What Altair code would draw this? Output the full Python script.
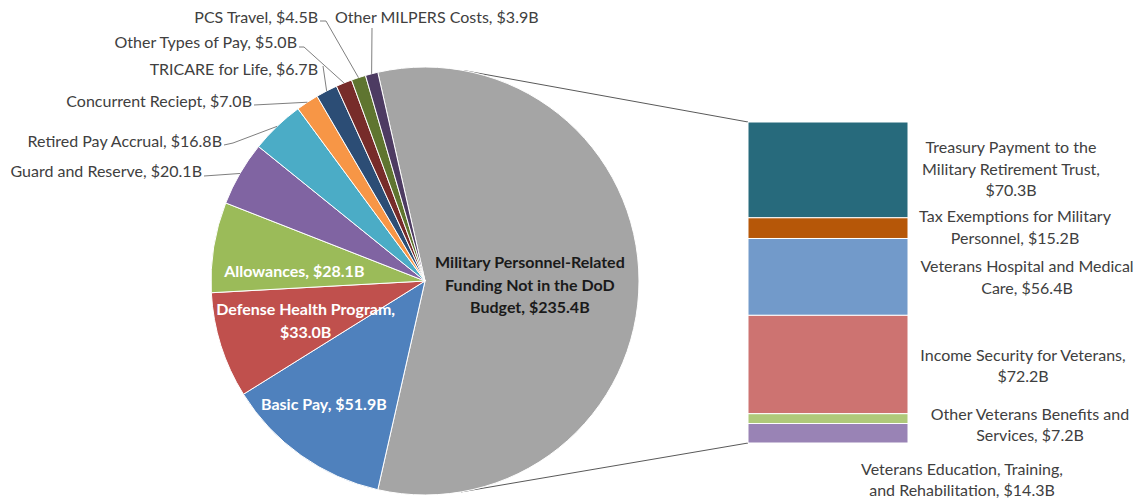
import math
import altair as alt
import pandas as pd

# ---------------- data ----------------
pie_categories = [
    "Military Personnel-Related Funding Not in the DoD Budget",
    "Basic Pay", "Defense Health Program", "Allowances", "Guard and Reserve",
    "Retired Pay Accrual", "Concurrent Reciept", "TRICARE for Life",
    "Other Types of Pay", "PCS Travel", "Other MILPERS Costs",
]
pie_values = [235.4, 51.9, 33.0, 28.1, 20.1, 16.8, 7.0, 6.7, 5.0, 4.5, 3.9]
pie_label_text = [
    "Military Personnel-Related\nFunding Not in the DoD\nBudget,  $235.4B",
    "Basic Pay, $51.9B",
    "Defense Health Program,\n$33.0B",
    "Allowances, $28.1B",
    "Guard and Reserve, $20.1B",
    "Retired Pay Accrual, $16.8B",
    "Concurrent Reciept, $7.0B",
    "TRICARE for Life, $6.7B",
    "Other Types of Pay, $5.0B",
    "PCS Travel, $4.5B",
    "Other MILPERS Costs, $3.9B",
]
bar_categories = [
    "Treasury Payment to the Military Retirement Trust",
    "Tax Exemptions for Military Personnel",
    "Veterans Hospital and Medical Care",
    "Income Security for Veterans",
    "Other Veterans Benefits and Services",
    "Veterans Education, Training, and Rehabilitation",
]
bar_values = [70.3, 15.2, 56.4, 72.2, 7.2, 14.3]
bar_label_text = [
    "Treasury Payment to the\nMilitary Retirement Trust,\n$70.3B",
    "Tax Exemptions for Military\nPersonnel, $15.2B",
    "Veterans Hospital and Medical\nCare, $56.4B",
    "Income Security for Veterans,\n$72.2B",
    "Other Veterans Benefits and\nServices, $7.2B",
    "Veterans Education, Training,\nand Rehabilitation, $14.3B",
]

# ---------------- styles ----------------
pie_colors = ["#A5A5A5", "#4F81BD", "#C0504D", "#9BBB59", "#8064A2", "#4BACC6",
              "#F79646", "#2C4D75", "#772C2A", "#5F7530", "#4D3B62"]
bar_colors = ["#276A7C", "#B65708", "#729ACA", "#CD7371", "#AFC97A", "#9983B5"]
inner_text_colors = ["#1A1A1A", "white", "white", "white"]
LABEL_COLOR = "#404040"
LEADER_COLOR = "#7F7F7F"
FONT = "Lato"
FS = 16
INNER_LH = 22.5
BAR_LH = 21.5

# ---------------- layout (pixels, chart coordinates) ----------------
W, H = 1126, 495
CX, CY, R = 417, 273, 214
BAR_X0, BAR_X1, BAR_Y0, BAR_Y1 = 740, 900, 114, 435
inner_label_radius = [105, 160, 126, 131]
inner_label_turn_deg = [2.5, 3.8, -1.1, -5.2]
# outer labels (slices 4..10): anchor x, y, align
outer_anchor = [(194, 164, "right"), (214, 134, "right"), (244, 94, "right"),
                (310, 62, "right"), (289, 35, "right"), (310, 10, "right"),
                (327, 10, "left")]
# leader start / elbow points for slices 4..10 (the end is the slice edge)
leader_start = [[(196, 168)], [(216, 137), (225, 135)], [(246, 97)],
                [(315, 58)], [(291, 39), (296, 39)], [(312, 13), (318, 13)],
                [(364, 20)]]
bar_label_cx = [1003, 1007, 1019, 1015, 1022, 954]
bar_label_nudge_px = [0, 0, 1, 2, 7, 47]

# ---------------- derived ----------------
total = sum(pie_values)
a0 = math.pi / 2 - math.pi * pie_values[0] / total + 2 * math.pi
theta_scale = alt.Scale(domain=[0, total], range=[a0, a0 + 2 * math.pi])

mids, mid_vals = [], []
cum = 0.0
for v in pie_values:
    mid_vals.append(cum + v / 2)
    mids.append(a0 + 2 * math.pi * (cum + v / 2) / total)
    cum += v

color_scale = alt.Scale(domain=pie_categories + bar_categories,
                        range=pie_colors + bar_colors)

pie_df = pd.DataFrame({
    "cat": pie_categories,
    "value": pie_values,
    "idx": list(range(len(pie_values))),
})
inner_df = pd.DataFrame({
    "text": pie_label_text[:4],
    "tmid": [m + d / 360 * total for m, d in zip(mid_vals[:4], inner_label_turn_deg)],
    "lr": inner_label_radius,
    "tc": inner_text_colors,
    "nl": [t.count("\n") + 1 for t in pie_label_text[:4]],
})

order = alt.Order("idx:Q", sort="ascending")

arcs = alt.Chart(pie_df).mark_arc(radius=R, stroke="white", strokeWidth=1).encode(
    theta=alt.Theta("value:Q", stack=True, scale=theta_scale),
    color=alt.Color("cat:N", scale=color_scale, legend=None),
    order=order,
    x=alt.value(CX), y=alt.value(CY),
)

def inner_layer(n):
    return alt.Chart(inner_df[inner_df["nl"] == n]).mark_text(
        font=FONT, fontSize=FS, fontWeight="bold", lineHeight=INNER_LH, lineBreak="\n",
        align="center", baseline="middle", dy=-(n - 1) * INNER_LH / 2
    ).encode(
        theta=alt.Theta("tmid:Q", stack=None, scale=theta_scale),
        radius=alt.Radius("lr:Q", scale=None),
        text="text:N",
        color=alt.Color("tc:N", scale=None),
        x=alt.value(CX), y=alt.value(CY),
    )

inner_layers = [inner_layer(n) for n in sorted(inner_df["nl"].unique())]

# outer labels
out_rows = []
for k, (ax, ay, al) in enumerate(outer_anchor):
    out_rows.append({"text": pie_label_text[4 + k], "x": ax, "y": ay, "al": al})
out_df = pd.DataFrame(out_rows)

def outer_layer(al):
    return alt.Chart(out_df[out_df["al"] == al]).mark_text(
        font=FONT, fontSize=FS, align=al, baseline="middle", color=LABEL_COLOR
    ).encode(
        x=alt.X("x:Q", scale=None, axis=None),
        y=alt.Y("y:Q", scale=None, axis=None),
        text="text:N",
    )

# leader lines
lead_rows = []
for k, pts in enumerate(leader_start):
    i = 4 + k
    ex = CX + R * math.sin(mids[i])
    ey = CY - R * math.cos(mids[i])
    allp = pts + [(ex, ey)]
    for j, (px, py) in enumerate(allp):
        lead_rows.append({"lid": k, "pt": j, "x": px, "y": py})
lead_df = pd.DataFrame(lead_rows)
leaders = alt.Chart(lead_df).mark_line(color=LEADER_COLOR, strokeWidth=1).encode(
    x=alt.X("x:Q", scale=None, axis=None),
    y=alt.Y("y:Q", scale=None, axis=None),
    detail="lid:N",
    order="pt:Q",
)

# series lines: tangents from bar corners to the pie
def tangent(px, py, upper):
    dx, dy = px - CX, py - CY
    d = math.hypot(dx, dy)
    phi = math.atan2(dy, dx)
    beta = math.acos(R / d)
    c = [(CX + R * math.cos(phi + s * beta), CY + R * math.sin(phi + s * beta)) for s in (1, -1)]
    return min(c, key=lambda p: p[1]) if upper else max(c, key=lambda p: p[1])

t_top = tangent(BAR_X0, BAR_Y0, True)
t_bot = tangent(BAR_X0, BAR_Y1, False)
conn_df = pd.DataFrame({
    "x1": [t_top[0], t_bot[0]], "y1": [t_top[1], t_bot[1]],
    "x2": [BAR_X0, BAR_X0], "y2": [BAR_Y0, BAR_Y1],
})
connectors = alt.Chart(conn_df).mark_rule(color="#595959", strokeWidth=1).encode(
    x=alt.X("x1:Q", scale=None, axis=None),
    y=alt.Y("y1:Q", scale=None, axis=None),
    x2="x2:Q", y2="y2:Q",
)

# bar of pie
bar_total = sum(bar_values)
b0, b1, cum = [], [], 0.0
for v in bar_values:
    b0.append(cum)
    cum += v
    b1.append(cum)
px_per_val = (BAR_Y1 - BAR_Y0) / bar_total
bar_shift_px = [n - (t.count("\n")) * BAR_LH / 2 for n, t in zip(bar_label_nudge_px, bar_label_text)]
bar_df = pd.DataFrame({
    "cat": bar_categories,
    "value": bar_values,
    "b0": b0, "b1": b1,
    "mid": [(a + b) / 2 + s / px_per_val for a, b, s in zip(b0, b1, bar_shift_px)],
    "lx": bar_label_cx,
    "text": bar_label_text,
})
yscale = alt.Scale(domain=[0, bar_total], range=[BAR_Y0, BAR_Y1], nice=False, zero=False)
bar = alt.Chart(bar_df).mark_bar(stroke="white", strokeWidth=1).encode(
    x=alt.value(BAR_X0), x2=alt.value(BAR_X1),
    y=alt.Y("b0:Q", scale=yscale, axis=None),
    y2="b1:Q",
    color=alt.Color("cat:N", scale=color_scale, legend=None),
)
bar_text = alt.Chart(bar_df).mark_text(
    font=FONT, fontSize=FS, lineHeight=BAR_LH, lineBreak="\n",
    align="center", baseline="middle", color=LABEL_COLOR
).encode(
    x=alt.X("lx:Q", scale=None, axis=None),
    y=alt.Y("mid:Q", scale=yscale, axis=None),
    text="text:N",
)

chart = alt.layer(
    connectors, arcs, *inner_layers, leaders, outer_layer("right"), outer_layer("left"), bar, bar_text
).resolve_scale(
    x="independent", y="independent"
).properties(
    width=W, height=H, padding=0, autosize="none", background="white"
).configure_view(stroke=None)

chart.save("out.html", embed_options={"renderer": "svg", "actions": False})
